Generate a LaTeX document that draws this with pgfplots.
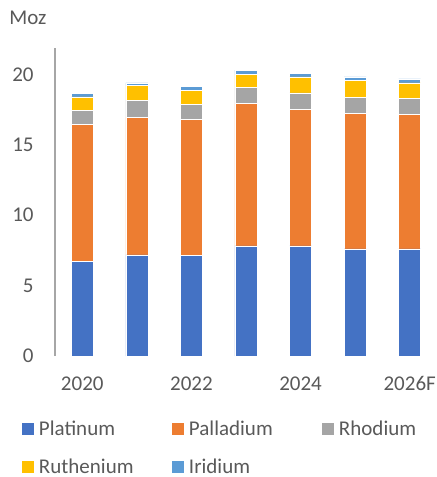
\documentclass[border=0pt]{standalone}
\usepackage{pgfplots}
\pgfplotsset{compat=1.18}
\usepackage{fontspec}
\setmainfont{Carlito}
\definecolor{cPt}{HTML}{4472C4}
\definecolor{cPd}{HTML}{ED7D31}
\definecolor{cRh}{HTML}{A5A5A5}
\definecolor{cRu}{HTML}{FFC000}
\definecolor{cIr}{HTML}{5B9BD5}
\definecolor{txt}{HTML}{595959}
\definecolor{axl}{HTML}{A6A6A6}
\begin{document}
\begin{tikzpicture}
\path[use as bounding box] (0,0) rectangle (218.5pt,238.5pt);
\begin{axis}[
  at={(27.5pt,60.5pt)}, anchor=south west,
  scale only axis, width=191pt, height=154.15pt,
  ymin=0, ymax=21.9, xmin=-0.5, xmax=6.5,
  ybar stacked, bar width=11pt,
  clip=false,
  axis lines=left,
  axis line style={-, line width=1pt, axl},
  x axis line style={draw=none},
  major tick length=0pt,
  ytick={0,5,10,15,20},
  xtick={0,2,4,6},
  xticklabels={2020,2022,2024,2026F},
  font=\fontsize{10.5pt}{12.6pt}\selectfont,
  tick label style={text=txt, font=\fontsize{10.5pt}{12.6pt}\selectfont},
  /pgf/number format/assume math mode=true,
  yticklabel style={anchor=east, inner sep=0pt, xshift=-10.5pt},
  xticklabel style={anchor=north, inner sep=0pt, text height=6.7pt, text depth=0pt, yshift=-10.2pt},
  legend image code/.code={\fill[#1,draw=none] (0pt,-2.4pt) rectangle (6pt,3.6pt);},
  legend columns=3,
  legend style={at={(-0.0864,-0.2115)}, anchor=north west, draw=none, fill=none,
    inner sep=0pt, outer sep=0pt, row sep=10pt, column sep=0pt,
    nodes={inner sep=0pt, text height=7pt, text depth=2pt, text=txt},
    font=\fontsize{10.5pt}{12.6pt}\selectfont},
  every axis plot/.append style={draw=white, line width=0.3pt},
]
\addplot[fill=cPt] coordinates {(0,6.74) (1,7.18) (2,7.14) (3,7.82) (4,7.82) (5,7.61) (6,7.61)};
\addlegendentry{\makebox[69pt][l]{\hspace{2.5pt}Platinum}}
\addplot[fill=cPd] coordinates {(0,9.73) (1,9.79) (2,9.69) (3,10.10) (4,9.70) (5,9.62) (6,9.57)};
\addlegendentry{\makebox[69pt][l]{\hspace{2.5pt}Palladium}}
\addplot[fill=cRh] coordinates {(0,0.99) (1,1.20) (2,1.06) (3,1.15) (4,1.17) (5,1.13) (6,1.13)};
\addlegendentry{\makebox[45pt][l]{\hspace{2.5pt}Rhodium}}
\addplot[fill=cRu] coordinates {(0,0.95) (1,1.04) (2,0.99) (3,0.95) (4,1.14) (5,1.23) (6,1.09)};
\addlegendentry{\makebox[69pt][l]{\hspace{2.5pt}Ruthenium}}
\addplot[fill=cIr] coordinates {(0,0.23) (1,0.19) (2,0.29) (3,0.28) (4,0.23) (5,0.24) (6,0.29)};
\addlegendentry{\makebox[69pt][l]{\hspace{2.5pt}Iridium}}
\node[anchor=west, inner sep=0pt, text=txt, font=\fontsize{10.5pt}{12.6pt}\selectfont] at (rel axis cs:-0.1204,1.0963) {Moz};
\end{axis}
\end{tikzpicture}
\end{document}
